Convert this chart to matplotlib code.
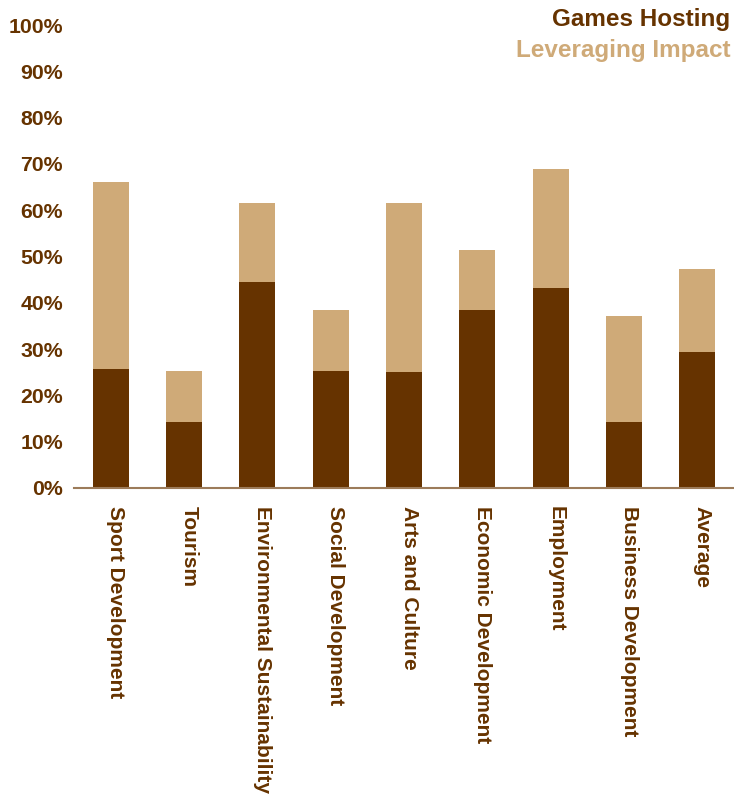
import matplotlib
matplotlib.use("Agg")
import matplotlib.pyplot as plt
from matplotlib.transforms import ScaledTranslation

DARK = "#663300"
LIGHT = "#cfaa78"
AXIS = "#9c7b5a"

categories = [
    "Sport Development",
    "Tourism",
    "Environmental Sustainability",
    "Social Development",
    "Arts and Culture",
    "Economic Development",
    "Employment",
    "Business Development",
    "Average",
]
# percentages
games_hosting = [25.7, 14.3, 44.5, 25.3, 25.1, 38.4, 43.3, 14.3, 29.4]
leveraging_impact = [40.4, 11.0, 17.1, 13.1, 36.5, 13.0, 25.6, 22.8, 17.9]
y_ticks = [0, 10, 20, 30, 40, 50, 60, 70, 80, 90, 100]

plt.rcParams["font.family"] = ["Liberation Sans", "DejaVu Sans"]
plt.rcParams["font.weight"] = "bold"

fig = plt.figure(figsize=(7.34, 7.94), dpi=100)
ax = fig.add_axes([0.101, 0.3854, 0.899, 0.5831])

x = range(len(categories))
ax.bar(x, games_hosting, width=0.49, color=DARK, linewidth=0)
ax.bar(x, leveraging_impact, width=0.49, bottom=games_hosting,
       color=LIGHT, linewidth=0)

ax.set_xlim(-0.5, len(categories) - 0.5)
ax.set_ylim(0, 100)
ax.set_yticks(y_ticks)
ax.set_yticklabels([f"{v}%" for v in y_ticks], fontsize=15.3,
                   fontweight="bold", color=DARK)
ax.set_xticks(list(x))
ax.set_xticklabels(categories, rotation=-90, fontsize=15,
                   fontweight="bold", color=DARK)
ax.tick_params(axis="x", length=0, pad=13)
ax.tick_params(axis="y", length=0, pad=8)

# the rotated labels sit a little right of the bar centres
shift = ScaledTranslation(0.05, 0, fig.dpi_scale_trans)
for label in ax.get_xticklabels():
    label.set_transform(label.get_transform() + shift)

for side in ["top", "right", "left"]:
    ax.spines[side].set_visible(False)
ax.spines["bottom"].set_color(AXIS)
ax.spines["bottom"].set_linewidth(1.5)

# legend as plain text in the top right corner
fig.text(0.995, 0.976, "Games Hosting", ha="right", va="center",
         fontsize=17.5, fontweight="bold", color=DARK)
fig.text(0.995, 0.936, "Leveraging Impact", ha="right", va="center",
         fontsize=17.5, fontweight="bold", color=LIGHT)

fig.savefig("out.png", dpi=100)
